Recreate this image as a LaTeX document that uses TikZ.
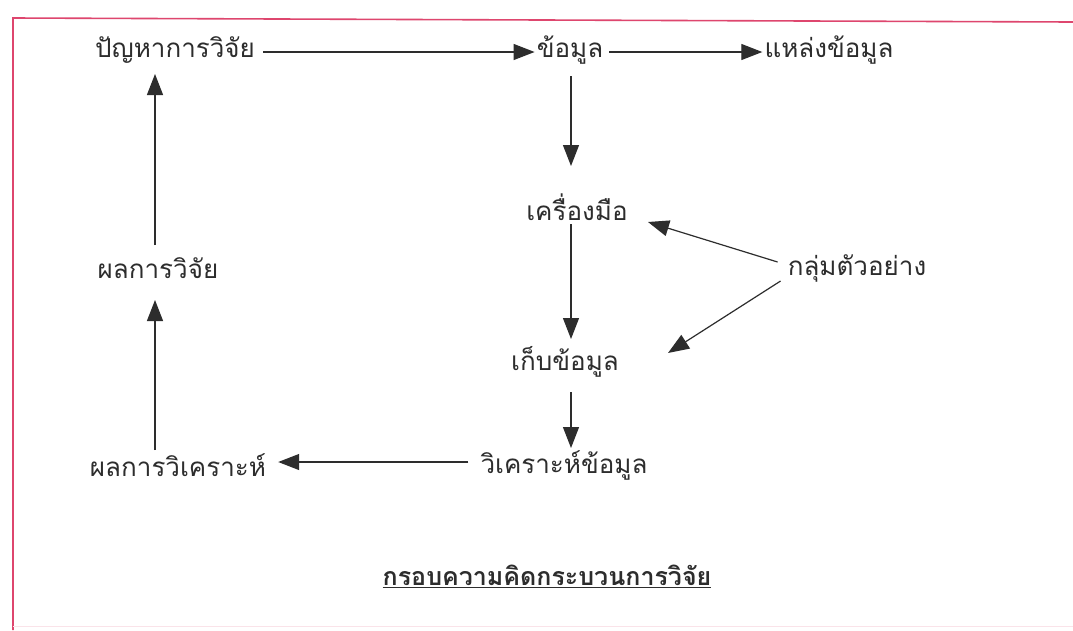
\documentclass[tikz,border=0pt]{standalone}
\usepackage{fontspec}
\newfontfamily\thaifont[Script=Thai]{Loma}
\usetikzlibrary{arrows.meta}
\definecolor{ink}{RGB}{45,45,45}
\definecolor{frame}{RGB}{222,70,110}
\tikzset{
  lbl/.style={font=\thaifont\fontsize{26}{30}\selectfont, text=ink, inner sep=2pt},
  captionlbl/.style={font=\thaifont\bfseries\fontsize{25}{29}\selectfont, text=ink, inner sep=2pt},
  arr/.style={draw=ink, line width=1.2pt, -{Triangle[length=21pt,width=16pt]}},
  border/.style={draw=frame, line width=1.6pt}
}
\begin{document}
\begin{tikzpicture}[x=1pt,y=-1pt]
\useasboundingbox (0,0) rectangle (1073,630);
\fill[white] (0,0) rectangle (1073,630);
% frame
\coordinate (tl) at (13,18);
\coordinate (tr) at (1073,22);
\coordinate (bl) at (13,630);
\draw[border] (tr) -- (tl) -- (bl);
\draw[draw=frame!15, line width=1pt] (13,626) -- (1073,626);
% nodes
\node[lbl] (prob) at (175,50) {ปัญหาการวิจัย};
\node[lbl] (data) at (570,50) {ข้อมูล};
\node[lbl] (src) at (829,50) {แหล่งข้อมูล};
\node[lbl] (tool) at (577,207) {เครื่องมือ};
\node[lbl] (samp) at (857,268) {กลุ่มตัวอย่าง};
\node[lbl] (coll) at (565,362) {เก็บข้อมูล};
\node[lbl] (anal) at (564,465) {วิเคราะห์ข้อมูล};
\node[lbl] (ares) at (178,465) {ผลการวิเคราะห์};
\node[lbl] (res) at (158,268) {ผลการวิจัย};
\node[captionlbl] (title) at (547,576) {\underline{กรอบความคิดกระบวนการวิจัย}};
% helper coordinates
\coordinate (pA) at (270,52); \coordinate (pB) at (512,52);
\coordinate (dA) at (612,52); \coordinate (dB) at (753,52);
% connectors
\draw[arr] (prob.east |- pA) ++(6,0) -- (data.west |- pB);
\draw[arr] (data.east |- dA) ++(4,0) -- (src.west |- dB);
\draw[arr] (571,76) -- (571,166);
\draw[arr] (571,224) -- (571,339);
\draw[arr] (571,392) -- (571,448);
\draw[arr] (anal.west |- 0,462) ++(-10,0) -- ([xshift=10pt]ares.east |- 0,462);
\draw[arr] (155,450) -- (155,300);
\draw[arr] (155,245) -- (155,74);
\draw[arr] (samp.west) ++(-8,-6) -- (648,222);
\draw[arr] (samp.west) ++(-5,13) -- (668,353);
\end{tikzpicture}
\end{document}
